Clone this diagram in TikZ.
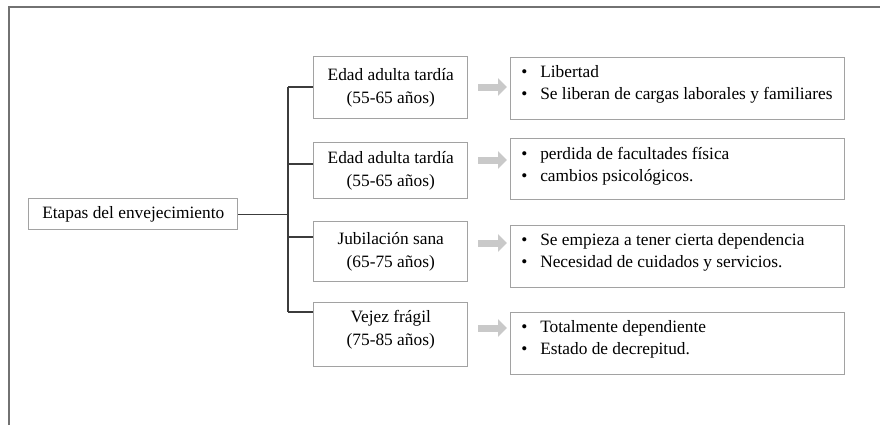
\documentclass[tikz,border=0pt]{standalone}
\usepackage{fontspec}
\setmainfont{Liberation Serif}
\usetikzlibrary{arrows.meta}
\definecolor{framegray}{HTML}{727272}
\definecolor{boxgray}{HTML}{A2A2A2}
\definecolor{treegray}{HTML}{3C3C3C}
\definecolor{arrowgray}{HTML}{C9C9C9}
\newcommand{\bul}{\makebox[14.25pt][l]{\textbullet}}

\begin{document}
\begin{tikzpicture}[x=0.75pt,y=-0.75pt,
  box/.style={draw=boxgray,line width=1.1pt,anchor=north west,inner sep=0pt,align=center,font=\fontsize{13}{17}\selectfont},
  listtext/.style={anchor=north west,inner sep=0pt,align=left,font=\fontsize{13}{16.5}\selectfont},
  branch/.style={draw=treegray,line width=0.9pt},
  grayarrow/.style={draw=arrowgray,line width=5.25pt,shorten >=2.25pt,-{Triangle[length=6.75pt,width=12.75pt]}}]
\useasboundingbox (0,0) rectangle (880,425);
\draw[framegray,line width=1.5pt] (9,425) -- (9,7) -- (880,7);

\node[box,minimum width=156.75pt,minimum height=23.25pt] (root) at (28,198) {Etapas del envejecimiento};

\node[box,minimum width=115.5pt,minimum height=46.5pt] (m1) at (313,56) {Edad adulta tardía\\(55-65 años)};
\node[box,minimum width=115.5pt,minimum height=42pt] (m2) at (313,142) {Edad adulta tardía\\(55-65 años)};
\node[box,minimum width=115.5pt,minimum height=45pt] (m3) at (313,221) {Jubilación sana\\ (65-75 años)};
\node[box,minimum width=115.5pt,minimum height=48pt] (m4) at (313,302) {Vejez frágil\\(75-85 años)\\[-7pt]\mbox{}};

\node[box,minimum width=250.5pt,minimum height=46.5pt] (r1) at (510,57) {};
\node[box,minimum width=250.5pt,minimum height=45.75pt] (r2) at (510,138) {};
\node[box,minimum width=250.5pt,minimum height=46.5pt] (r3) at (510,225) {};
\node[box,minimum width=250.5pt,minimum height=46.5pt] (r4) at (510,312) {};

\node[listtext] (r1t) at ([xshift=8.25pt,yshift=-6.5pt]r1.north west) {\bul Libertad\\\bul Se liberan de cargas laborales y familiares};
\node[listtext] (r2t) at ([xshift=8.25pt,yshift=-6.5pt]r2.north west) {\bul perdida de facultades física\\\bul cambios psicológicos.};
\node[listtext] (r3t) at ([xshift=8.25pt,yshift=-6.5pt]r3.north west) {\bul Se empieza a tener cierta dependencia\\\bul Necesidad de cuidados y servicios.};
\node[listtext] (r4t) at ([xshift=8.25pt,yshift=-6.5pt]r4.north west) {\bul Totalmente dependiente\\\bul Estado de decrepitud.};

\coordinate (j1) at (288,87);
\coordinate (j2) at (288,164);
\coordinate (j3) at (288,237);
\coordinate (j4) at (288,312);
\draw[branch] (root.east) -- (root.east -| j1);
\draw[branch] (j1) -- (j4);
\draw[branch] (j1) -- (j1 -| m1.west);
\draw[branch] (j2) -- (j2 -| m2.west);
\draw[branch] (j3) -- (j3 -| m3.west);
\draw[branch] (j4) -- (j4 -| m4.west);

\coordinate (a1) at (478,87);
\coordinate (a2) at (478,160);
\coordinate (a3) at (478,243);
\coordinate (a4) at (478,328);
\draw[grayarrow] (a1) -- (a1 -| r1.west);
\draw[grayarrow] (a2) -- (a2 -| r2.west);
\draw[grayarrow] (a3) -- (a3 -| r3.west);
\draw[grayarrow] (a4) -- (a4 -| r4.west);
\end{tikzpicture}
\end{document}
